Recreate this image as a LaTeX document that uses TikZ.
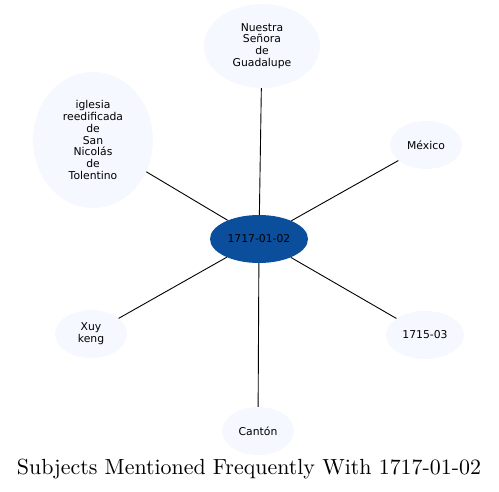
\documentclass[tikz,border=0pt]{standalone}
\usepackage{fontspec}
\usetikzlibrary{shapes.geometric}
\newfontfamily\nodefont{DejaVu Sans}
\definecolor{leaf}{HTML}{F5F8FE}
\definecolor{hub}{HTML}{0B4F9C}
\begin{document}
\begin{tikzpicture}[x=1pt,y=-1pt,
  leafnode/.style={ellipse, fill=leaf, draw=none, inner sep=0pt, align=center, font=\nodefont\fontsize{10.8}{11.7}\selectfont},
  hubnode/.style={ellipse, fill=hub, draw=none, inner sep=0pt, font=\nodefont\fontsize{10.8}{11.7}\selectfont},
  link/.style={draw=black, line width=0.9pt}]
\useasboundingbox (0,0) rectangle (499,492);
\node[hubnode, minimum width=98pt, minimum height=48pt] (c) at (259,239) {1717-01-02};
\node[leafnode, minimum width=116pt, minimum height=84pt] (n) at (262,46) {Nuestra\\Señora\\de\\Guadalupe};
\node[leafnode, minimum width=72pt, minimum height=48pt] (m) at (426,145) {México};
\node[leafnode, minimum width=120pt, minimum height=136pt] (i) at (93,140) {iglesia\\reedificada\\de\\San\\Nicolás\\de\\Tolentino};
\node[leafnode, minimum width=72pt, minimum height=48pt] (x) at (91,334) {Xuy\\keng};
\node[leafnode, minimum width=78pt, minimum height=48pt] (f) at (425,335) {1715-03};
\node[leafnode, minimum width=72pt, minimum height=48pt] (k) at (258,431) {Cantón};
\draw[link] (c) -- (n);
\draw[link] (c) -- (m);
\draw[link] (c) -- (i);
\draw[link] (c) -- (x);
\draw[link] (c) -- (f);
\draw[link] (c) -- (k);
\node[inner sep=0pt] (t) at (249,469) {\resizebox{464pt}{!}{\fontsize{10}{12}\selectfont Subjects Mentioned Frequently With 1717-01-02}};
\end{tikzpicture}
\end{document}
